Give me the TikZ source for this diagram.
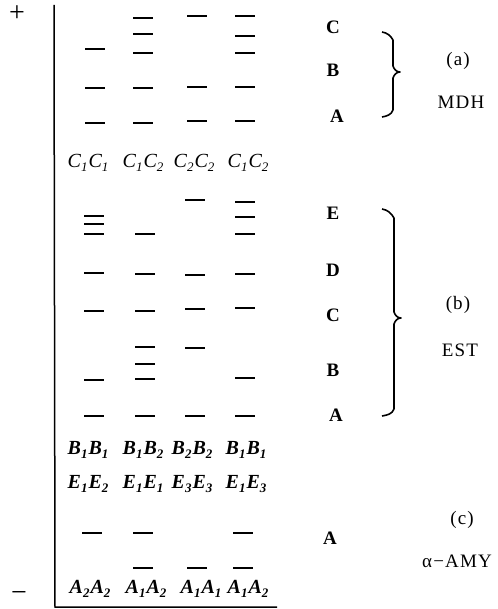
\documentclass[tikz,border=0pt]{standalone}
\usepackage{fontspec}
\setmainfont{Liberation Serif}
\newfontfamily\spacedfont[LetterSpace=6]{Liberation Serif}
\newcommand\gty[4]{#1\raisebox{-4pt}{\fontsize{13}{15}\selectfont #2}\kern1pt#3\raisebox{-4pt}{\fontsize{13}{15}\selectfont #4}}
\newcommand\bnd[3][]{\draw[band,#1] ({#2-10},#3) -- ({#2+10},#3);}
\tikzset{
  band/.style={line width=2.1pt},
  bthick/.style={line width=2.7pt},
  bthin/.style={line width=1.4pt},
  geno/.style={font=\fontsize{20}{22}\selectfont\itshape, inner sep=0pt},
  genob/.style={font=\fontsize{20}{22}\selectfont\bfseries\itshape, inner sep=0pt},
  letter/.style={font=\fontsize{19}{22}\selectfont\bfseries, inner sep=0pt},
  side/.style={font=\fontsize{19}{22}\selectfont\spacedfont, inner sep=0pt},
  pole/.style={font=\fontsize{28}{30}\selectfont, inner sep=0pt},
  brace/.style={line width=1.6pt, line join=round},
  axis/.style={line width=1.5pt}
}
\begin{document}
\begin{tikzpicture}[x=1pt,y=-1pt]
\useasboundingbox (0,0) rectangle (497,609);
% axes
\coordinate (top) at (54,5);
\coordinate (corner) at (55,607);
\coordinate (rend) at (277,607);
\draw[axis] (top) -- (corner) -- (rend);
\node[pole] (plus) at (17,14) {+};
\node[pole] (minus) at (19,596) {−};
% ---------- (a) MDH bands
\bnd[bthick]{95}{49} \bnd{95}{88} \bnd[bthick]{95}{123}
\bnd[bthin]{143}{18} \bnd[bthick]{143}{34} \bnd[bthin]{143}{53} \bnd{143}{88} \bnd{143}{123}
\bnd[bthick]{197}{16} \bnd[bthick]{197}{87} \bnd{197}{121}
\bnd[bthin]{245}{16} \bnd{245}{36} \bnd[bthin]{245}{53} \bnd[bthick]{245}{87} \bnd{245}{121}
\node[geno] (c1) at (88,163) {\gty{C}{1}{C}{1}};
\node[geno] (c2) at (143,163) {\gty{C}{1}{C}{2}};
\node[geno] (c3) at (194,163) {\gty{C}{2}{C}{2}};
\node[geno] (c4) at (248,163) {\gty{C}{1}{C}{2}};
% ---------- (b) EST bands
\bnd[bthin]{94}{216} \bnd{94}{224} \bnd[bthin]{94}{234} \bnd[bthick]{94}{273} \bnd{94}{311} \bnd{94}{380} \bnd{94}{416}
\bnd{145}{234} \bnd{145}{274} \bnd{145}{311} \bnd[bthin]{145}{347} \bnd[bthin]{145}{364} \bnd{145}{379} \bnd{145}{416}
\bnd{195}{200} \bnd{195}{275} \bnd[bthick]{195}{309} \bnd[bthick]{195}{348} \bnd{195}{416}
\bnd[bthin]{245}{202} \bnd{245}{217} \bnd[bthin]{245}{234} \bnd{245}{274} \bnd[bthick]{245}{308} \bnd[bthick]{245}{378} \bnd{245}{416}
\node[genob] (b1) at (88,450) {\gty{B}{1}{B}{1}};
\node[genob] (b2) at (143,450) {\gty{B}{1}{B}{2}};
\node[genob] (b3) at (192,450) {\gty{B}{2}{B}{2}};
\node[genob] (b4) at (246,450) {\gty{B}{1}{B}{1}};
\node[genob] (e1) at (88,484) {\gty{E}{1}{E}{2}};
\node[genob] (e2) at (143,484) {\gty{E}{1}{E}{1}};
\node[genob] (e3) at (192,484) {\gty{E}{3}{E}{3}};
\node[genob] (e4) at (246,484) {\gty{E}{1}{E}{3}};
% ---------- (c) alpha-AMY bands
\bnd[bthick]{92}{533}
\bnd{143}{533} \bnd{143}{568}
\bnd{197}{568}
\bnd{243}{533} \bnd{243}{568}
\node[genob] (a1) at (90,589) {\gty{A}{2}{A}{2}};
\node[genob] (a2) at (146,589) {\gty{A}{1}{A}{2}};
\node[genob] (a3) at (201,589) {\gty{A}{1}{A}{1}};
\node[genob] (a4) at (248,589) {\gty{A}{1}{A}{2}};
% ---------- right side letters
\node[letter] (mC) at (333,27) {C};
\node[letter] (mB) at (333,70) {B};
\node[letter] (mA) at (337,116) {A};
\node[letter] (eE) at (333,213) {E};
\node[letter] (eD) at (333,270) {D};
\node[letter] (eC) at (333,315) {C};
\node[letter] (eB) at (333,370) {B};
\node[letter] (eA) at (336,415) {A};
\node[letter] (yA) at (330,538) {A};
% braces
\draw[brace] (382,32) to[out=-10,in=120] (393,40) -- (393,66) to[out=-70,in=180] (400,72) to[out=180,in=70] (393,78) -- (393,110) to[out=-110,in=10] (382,117);
\draw[brace] (382,209) to[out=-10,in=120] (394,218) -- (394,312) to[out=-70,in=180] (401,318) to[out=180,in=70] (394,324) -- (394,409) to[out=-110,in=10] (382,416);
% side labels
\node[side] (la) at (458,61) {(a)};
\node[side] (lmdh) at (461,102) {MDH};
\node[side] (lb) at (458,305) {(b)};
\node[side] (lest) at (460,350) {EST};
\node[side] (lc) at (462,520) {(c)};
\node[side] (lamy) at (457,561) {α−AMY};
\end{tikzpicture}
\end{document}
